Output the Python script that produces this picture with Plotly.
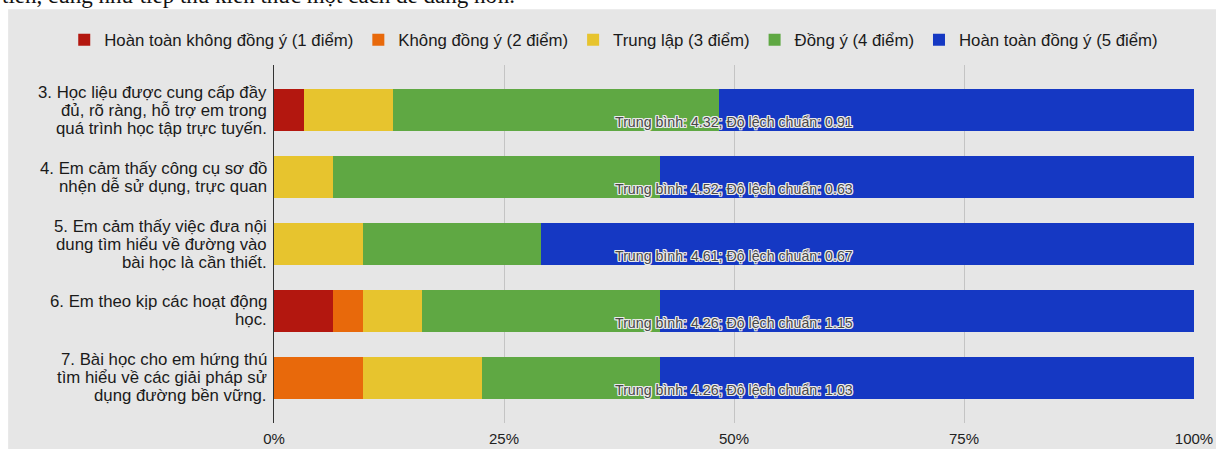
import plotly.graph_objects as go

categories = [
    "3. Học liệu được cung cấp đầy<br>đủ, rõ ràng, hỗ trợ em trong<br>quá trình học tập trực tuyến.",
    "4. Em cảm thấy công cụ sơ đồ<br>nhện dễ sử dụng, trực quan",
    "5. Em cảm thấy việc đưa nội<br>dung tìm hiểu về đường vào<br>bài học là cần thiết.",
    "6. Em theo kịp các hoạt động<br>học.",
    "7. Bài học cho em hứng thú<br>tìm hiểu về các giải pháp sử<br>dụng đường bền vững.",
]
level_names = [
    "Hoàn toàn không đồng ý (1 điểm)",
    "Không đồng ý (2 điểm)",
    "Trung lập (3 điểm)",
    "Đồng ý (4 điểm)",
    "Hoàn toàn đồng ý (5 điểm)",
]
level1 = [1, 0, 0, 2, 0]
level2 = [0, 0, 0, 1, 3]
level3 = [3, 2, 3, 2, 4]
level4 = [11, 11, 6, 8, 6]
level5 = [16, 18, 22, 18, 18]
means = ["4.32", "4.52", "4.61", "4.26", "4.26"]
stdevs = ["0.91", "0.63", "0.67", "1.15", "1.03"]
tick_vals = [0, 25, 50, 75, 100]
tick_text = ["0%", "25%", "50%", "75%", "100%"]

colors = ["#b3170f", "#e8690b", "#e7c42e", "#5fa843", "#1538c3"]
series = [level1, level2, level3, level4, level5]

fig = go.Figure()
for name, vals, col in zip(level_names, series, colors):
    fig.add_trace(go.Bar(
        y=categories, x=vals, name=name, orientation="h",
        marker=dict(color=col, line=dict(width=0)),
    ))

FONT = "Liberation Sans, Arial, sans-serif"
halo = ", ".join(f"{dx}px {dy}px 0 #ececec" for dx, dy in
                 [(1, 0), (-1, 0), (0, 1), (0, -1), (1, 1), (-1, -1), (1, -1), (-1, 1)])
annotations = []
for cat, m, s in zip(categories, means, stdevs):
    annotations.append(dict(
        x=50, y=cat, xref="x", yref="y",
        text=f"Trung bình: {m}; Độ lệch chuẩn: {s}",
        showarrow=False, yshift=-12,
        font=dict(family=FONT, size=14.2, color="#484848", shadow=halo),
    ))
    # category label, one annotation per line for tight line spacing
    lines = cat.split("<br>")
    n = len(lines)
    for i, ln in enumerate(lines):
        annotations.append(dict(
            x=0, y=cat, xref="paper", yref="y", xanchor="right", yanchor="middle",
            xshift=-5, yshift=((n - 1) / 2 - i) * 18,
            text=ln, showarrow=False, align="right",
            font=dict(family=FONT, size=16.8, color="#1a1a1a"),
        ))
annotations.append(dict(
    x=-0.298, y=1, xref="paper", yref="paper", xanchor="left", yanchor="bottom",
    yshift=55, showarrow=False,
    text="tiên, cũng như tiếp thu kiến thức một cách dễ dàng hơn.",
    font=dict(family="Liberation Serif, Times New Roman, serif", size=23, color="#111111"),
))

gray = "#e6e6e6"
fig.update_layout(
    width=1216, height=449,
    margin=dict(l=274, r=22, t=65, b=26, autoexpand=False),
    paper_bgcolor="white", plot_bgcolor=gray,
    barmode="stack", barnorm="percent", bargap=0.36,
    font=dict(family=FONT, size=15, color="#222222"),
    showlegend=True,
    legend=dict(orientation="h", xref="paper", yref="paper",
                x=-0.228, xanchor="left", y=1.07, yanchor="middle",
                font=dict(size=16.8, color="#1a1a1a"), traceorder="normal",
                bgcolor="rgba(0,0,0,0)", itemwidth=30),
    shapes=[dict(type="rect", xref="paper", yref="paper", layer="below",
                 x0=-0.289, x1=1.03, y0=-0.08, y1=1.156,
                 fillcolor=gray, line=dict(width=0))],
    annotations=annotations,
    xaxis=dict(range=[0, 100], tickvals=tick_vals, ticktext=tick_text,
               showgrid=True, gridcolor="#c4c4c4", gridwidth=1,
               zeroline=False, showline=False,
               ticks="outside", ticklen=2, tickcolor="rgba(0,0,0,0)",
               tickfont=dict(size=15, color="#222222"), automargin=False),
    yaxis=dict(range=[4.672, -0.672], showgrid=False, zeroline=False,
               showline=True, linecolor="#333333", linewidth=1,
               ticks="", showticklabels=False, automargin=False),
)

fig.write_html("out.html")
